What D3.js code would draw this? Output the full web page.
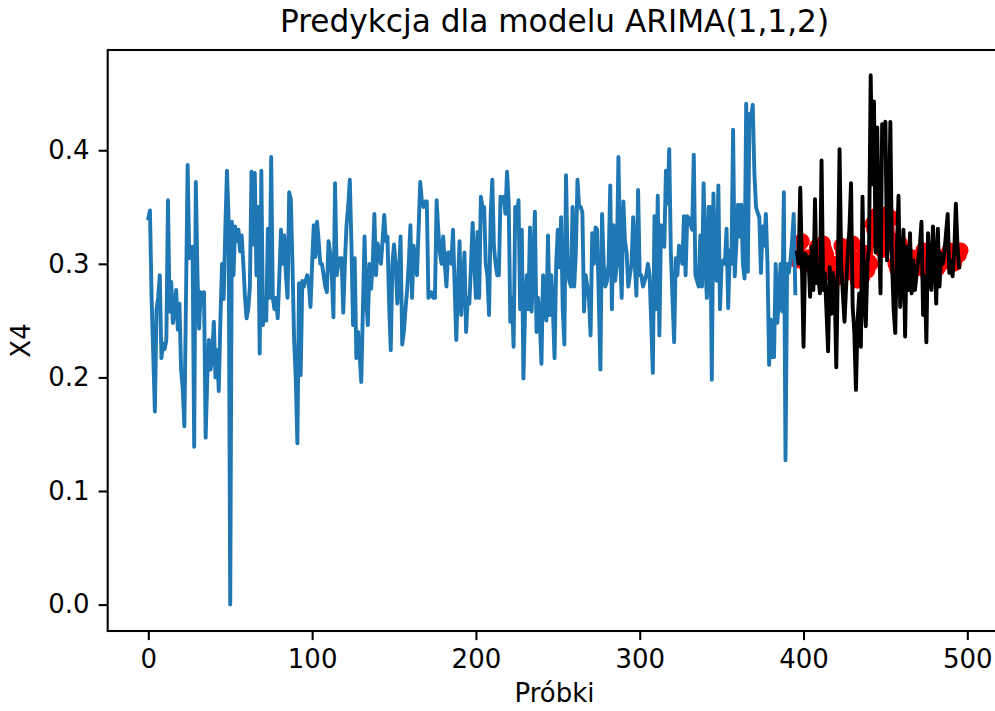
<!DOCTYPE html>
<html>
<head>
<meta charset="utf-8">
<script src="https://cdnjs.cloudflare.com/ajax/libs/d3/7.8.5/d3.min.js"></script>
<style>
  body { margin: 0; background: #fff; }
  text { font-family: "DejaVu Sans", sans-serif; fill: #000; }
</style>
</head>
<body>
<svg></svg>
<script>
// training part (samples 0..395)
var trainValues = [
  0.340,0.347,0.27,0.22,0.170,0.26,0.27,0.290,0.217,0.23,
  0.225,0.233,0.356,0.258,0.284,0.248,0.26,0.277,0.242,0.265,
  0.207,0.19,0.157,0.27,0.387,0.305,0.31,0.315,0.139,0.372,
  0.29,0.243,0.275,0.27,0.275,0.147,0.20,0.233,0.207,0.22,
  0.249,0.200,0.224,0.188,0.25,0.300,0.269,0.33,0.382,0.34,
  0.0,0.337,0.290,0.333,0.32,0.33,0.311,0.325,0.30,0.271,
  0.252,0.26,0.28,0.381,0.317,0.38,0.29,0.350,0.221,0.382,
  0.246,0.27,0.25,0.331,0.27,0.394,0.27,0.26,0.27,0.252,
  0.29,0.330,0.300,0.325,0.29,0.270,0.363,0.357,0.30,0.233,
  0.20,0.142,0.283,0.202,0.285,0.280,0.285,0.29,0.283,0.262,
  0.30,0.334,0.306,0.337,0.32,0.30,0.30,0.29,0.28,0.275,
  0.32,0.31,0.29,0.253,0.371,0.29,0.30,0.305,0.305,0.257,
  0.30,0.334,0.35,0.374,0.317,0.246,0.305,0.217,0.24,0.22,
  0.196,0.26,0.324,0.27,0.246,0.30,0.278,0.30,0.344,0.29,
  0.318,0.31,0.30,0.32,0.343,0.32,0.324,0.265,0.224,0.30,
  0.317,0.30,0.265,0.29,0.324,0.229,0.24,0.26,0.277,0.30,
  0.334,0.27,0.316,0.30,0.29,0.33,0.372,0.355,0.35,0.355,
  0.355,0.27,0.272,0.275,0.27,0.27,0.356,0.33,0.31,0.30,
  0.324,0.30,0.28,0.31,0.31,0.30,0.330,0.28,0.233,0.28,
  0.32,0.255,0.28,0.31,0.240,0.27,0.265,0.30,0.336,0.30,
  0.27,0.328,0.27,0.359,0.35,0.35,0.30,0.29,0.255,0.343,
  0.374,0.315,0.30,0.29,0.29,0.359,0.355,0.359,0.344,0.381,
  0.354,0.249,0.27,0.227,0.35,0.34,0.356,0.26,0.33,0.199,
  0.26,0.29,0.26,0.332,0.258,0.30,0.346,0.24,0.27,0.25,
  0.212,0.29,0.27,0.25,0.325,0.255,0.29,0.26,0.217,0.30,
  0.33,0.297,0.341,0.26,0.229,0.378,0.30,0.285,0.28,0.35,
  0.28,0.31,0.374,0.35,0.35,0.345,0.258,0.29,0.28,0.27,
  0.237,0.327,0.30,0.332,0.33,0.27,0.207,0.344,0.30,0.28,
  0.285,0.30,0.369,0.26,0.334,0.285,0.30,0.394,0.31,0.27,
  0.355,0.32,0.31,0.28,0.29,0.30,0.341,0.30,0.272,0.365,
  0.29,0.29,0.28,0.285,0.29,0.30,0.29,0.25,0.204,0.342,
  0.26,0.360,0.237,0.334,0.32,0.315,0.382,0.353,0.401,0.31,
  0.27,0.231,0.305,0.29,0.316,0.31,0.30,0.342,0.29,0.342,
  0.34,0.335,0.33,0.396,0.29,0.285,0.28,0.325,0.28,0.371,
  0.30,0.27,0.35,0.35,0.198,0.362,0.30,0.285,0.369,0.26,
  0.30,0.303,0.30,0.331,0.261,0.312,0.30,0.418,0.289,0.318,
  0.352,0.324,0.352,0.30,0.287,0.441,0.293,0.432,0.43,0.440,
  0.380,0.350,0.345,0.341,0.292,0.333,0.316,0.344,0.30,0.211,
  0.251,0.218,0.218,0.300,0.248,0.27,0.300,0.258,0.363,0.127,
  0.300,0.292,0.303,0.32,0.344,0.274
];

// test part (samples 396..495)
var testStart = 396;
var testValues = [
  0.31,0.30,0.367,0.30,0.227,0.309,0.306,0.306,0.271,0.315,
  0.277,0.357,0.283,0.29,0.274,0.391,0.277,0.292,0.259,0.223,
  0.297,0.256,0.292,0.28,0.209,0.297,0.401,0.30,0.274,0.249,
  0.28,0.309,0.33,0.371,0.262,0.24,0.189,0.25,0.274,0.227,
  0.359,0.268,0.245,0.30,0.315,0.466,0.37,0.443,0.31,0.42,
  0.33,0.274,0.423,0.42,0.425,0.303,0.33,0.425,0.303,0.26,
  0.239,0.315,0.360,0.262,0.29,0.330,0.236,0.315,0.277,0.327,
  0.274,0.303,0.277,0.29,0.303,0.315,0.337,0.255,0.289,0.231,
  0.327,0.30,0.277,0.333,0.303,0.265,0.331,0.280,0.309,0.30,
  0.31,0.327,0.344,0.292,0.303,0.289,0.31,0.353,0.315,0.297
];

// ARIMA(1,1,2) prediction (samples 396..496)
var predStart = 396;
var predValues = [
  0.303,0.305,0.318,0.320,0.305,0.300,0.303,0.306,0.300,0.298,
  0.302,0.300,0.315,0.305,0.300,0.298,0.318,0.312,0.308,0.302,
  0.292,0.298,0.296,0.300,0.298,0.288,0.294,0.316,0.310,0.300,
  0.292,0.294,0.300,0.306,0.318,0.304,0.294,0.285,0.290,0.295,
  0.288,0.310,0.300,0.294,0.302,0.300,0.335,0.330,0.342,0.320,
  0.338,0.340,0.312,0.320,0.338,0.344,0.320,0.322,0.340,0.318,
  0.300,0.295,0.306,0.318,0.300,0.298,0.310,0.292,0.300,0.298,
  0.306,0.298,0.300,0.296,0.298,0.300,0.304,0.312,0.296,0.298,
  0.290,0.304,0.302,0.296,0.306,0.302,0.296,0.306,0.300,0.303,
  0.302,0.305,0.308,0.312,0.302,0.304,0.300,0.305,0.312,0.308,
  0.312
];

var xTicks = [0, 100, 200, 300, 400, 500];
var yTicks = [0.0, 0.1, 0.2, 0.3, 0.4];

var width = 995, height = 711;
var plot = {left: 107.7, right: 1001.4, top: 50, bottom: 631};
var pt = 2.6;   // px per point

var svg = d3.select("svg")
  .attr("width", width)
  .attr("height", height);

svg.append("rect")
  .attr("width", width)
  .attr("height", height)
  .attr("fill", "#fff");

var x = d3.scaleLinear().domain([-24.8, 520.8]).range([plot.left, plot.right]);
var y = d3.scaleLinear().domain([-0.02325, 0.48825]).range([plot.bottom, plot.top]);

var train = trainValues.map(function(v, i) { return {i: i, v: v}; });
var test = testValues.map(function(v, i) { return {i: testStart + i, v: v}; });
var pred = predValues.map(function(v, i) { return {i: predStart + i, v: v}; });

var line = d3.line()
  .x(function(d) { return x(d.i); })
  .y(function(d) { return y(d.v); });

svg.append("defs").append("clipPath").attr("id", "clip")
  .append("rect")
  .attr("x", plot.left).attr("y", plot.top)
  .attr("width", plot.right - plot.left).attr("height", plot.bottom - plot.top);

var g = svg.append("g").attr("clip-path", "url(#clip)");

// red prediction markers go under the lines
g.append("path")
  .datum(pred)
  .attr("d", line)
  .attr("fill", "none")
  .attr("stroke", "red")
  .attr("stroke-width", 1.5 * pt);

g.selectAll("circle.pred")
  .data(pred)
  .enter().append("circle")
  .attr("class", "pred")
  .attr("cx", function(d) { return x(d.i); })
  .attr("cy", function(d) { return y(d.v); })
  .attr("r", 3 * pt)
  .attr("fill", "red");

g.append("path")
  .datum(train)
  .attr("d", line)
  .attr("fill", "none")
  .attr("stroke", "#1f77b4")
  .attr("stroke-width", 1.5 * pt)
  .attr("stroke-linejoin", "round")
  .attr("stroke-linecap", "square");

g.append("path")
  .datum(test)
  .attr("d", line)
  .attr("fill", "none")
  .attr("stroke", "#000")
  .attr("stroke-width", 1.5 * pt)
  .attr("stroke-linejoin", "round")
  .attr("stroke-linecap", "square");

// axes
var xAxis = d3.axisBottom(x)
  .tickValues(xTicks)
  .tickFormat(d3.format("d"))
  .tickSize(3.5 * pt)
  .tickPadding(3.5 * pt);

var yAxis = d3.axisLeft(y)
  .tickValues(yTicks)
  .tickFormat(d3.format(".1f"))
  .tickSize(3.5 * pt)
  .tickPadding(3.5 * pt);

var gx = svg.append("g")
  .attr("transform", "translate(0," + plot.bottom + ")")
  .call(xAxis);

var gy = svg.append("g")
  .attr("transform", "translate(" + plot.left + ",0)")
  .call(yAxis);

[gx, gy].forEach(function(a) {
  a.select(".domain").remove();
  a.selectAll(".tick line").attr("stroke", "#000").attr("stroke-width", 0.8 * pt);
  a.selectAll(".tick text")
    .attr("font-size", 10 * pt)
    .attr("font-family", "DejaVu Sans");
});
gx.selectAll(".tick text").attr("dy", "0.74em");

// frame
svg.append("rect")
  .attr("x", plot.left)
  .attr("y", plot.top)
  .attr("width", plot.right - plot.left)
  .attr("height", plot.bottom - plot.top)
  .attr("fill", "none")
  .attr("stroke", "#000")
  .attr("stroke-width", 0.8 * pt);

var cx = (plot.left + plot.right) / 2;

svg.append("text")
  .attr("x", cx)
  .attr("y", 32)
  .attr("text-anchor", "middle")
  .attr("font-size", 12 * pt)
  .text("Predykcja dla modelu ARIMA(1,1,2)");

svg.append("text")
  .attr("x", cx)
  .attr("y", 702)
  .attr("text-anchor", "middle")
  .attr("font-size", 10 * pt)
  .text("Próbki");

svg.append("text")
  .attr("transform", "translate(29.5," + ((plot.top + plot.bottom) / 2) + ") rotate(-90)")
  .attr("text-anchor", "middle")
  .attr("font-size", 10 * pt)
  .text("X4");
</script>
</body>
</html>
